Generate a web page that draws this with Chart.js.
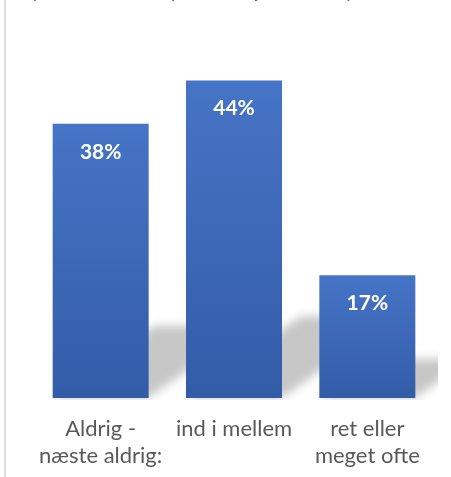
<!DOCTYPE html>
<html>
<head>
<meta charset="utf-8">
<script src="https://cdn.jsdelivr.net/npm/chart.js@4/dist/chart.umd.min.js"></script>
<style>
  html, body { margin: 0; padding: 0; background: #fff; }
  #wrap { position: relative; width: 451px; height: 477px; overflow: hidden; }
  #edge { position: absolute; left: 4px; top: 0; width: 2px; height: 477px; background: #dcdcdc; }
  #box { position: absolute; left: 0; top: -19px; width: 451px; height: 507px; }
</style>
</head>
<body>
<div id="wrap">
  <div id="box"><canvas id="myChart"></canvas></div>
  <div id="edge"></div>
</div>
<script>
"use strict";

var titleText = 'på hvor ofte du har oplevet at få tjek af dit udstyr';
var categories = [['Aldrig -', 'næste aldrig:'], ['ind i mellem'], ['ret eller', 'meget ofte']];
var percents = [38, 44, 17];

// soft gray shadow cast up and to the right behind each bar
var barShadow = {
    id: 'barShadow',
    beforeDatasetsDraw: function(chart) {
        var ctx = chart.ctx;
        var area = chart.chartArea;
        var bars = chart.getDatasetMeta(0).data;
        ctx.save();
        ctx.beginPath();
        ctx.rect(area.left - 10, area.top, area.right - area.left + 14, area.bottom - area.top + 2);
        ctx.clip();
        ctx.filter = 'blur(5px)';
        ctx.fillStyle = 'rgba(0,0,0,0.22)';
        bars.forEach(function(b) {
            var h = b.base - b.y;
            var sh = h * 0.22 + 12;
            var dx = sh * 1.4;
            var l = b.x - b.width / 2, r = b.x + b.width / 2;
            ctx.beginPath();
            ctx.moveTo(l, b.base);
            ctx.lineTo(r, b.base);
            ctx.lineTo(r + dx, b.base - sh);
            ctx.lineTo(l + dx, b.base - sh);
            ctx.closePath();
            ctx.fill();
        });
        ctx.restore();
    }
};

// white bold value labels inside the top of each bar
var valueLabels = {
    id: 'valueLabels',
    afterDatasetsDraw: function(chart) {
        var ctx = chart.ctx;
        var bars = chart.getDatasetMeta(0).data;
        ctx.save();
        ctx.fillStyle = '#ffffff';
        ctx.font = 'bold 21px Lato';
        ctx.textAlign = 'center';
        ctx.textBaseline = 'middle';
        bars.forEach(function(b, i) {
            ctx.fillText(percents[i] + '%', b.x, b.y + 28);
        });
        ctx.restore();
    }
};

var ctx1 = document.getElementById('myChart').getContext('2d');
var myChart = new Chart(ctx1, {
    type: 'bar',
    data: {
        labels: categories,
        datasets: [{
            data: percents,
            backgroundColor: function(c) {
                var chart = c.chart;
                var y = chart.scales.y;
                if (!chart.chartArea || !y || c.raw === undefined) {
                    return '#4472c4';
                }
                var top = y.getPixelForValue(c.raw);
                var bottom = y.getPixelForValue(0);
                var g = chart.ctx.createLinearGradient(0, top, 0, bottom);
                g.addColorStop(0, '#4674c6');
                g.addColorStop(1, '#335ca8');
                return g;
            },
            borderWidth: 0,
            barPercentage: 0.72,
            categoryPercentage: 1
        }]
    },
    options: {
        responsive: true,
        maintainAspectRatio: false,
        animation: false,
        layout: {
            padding: { left: 34, right: 17, top: 0, bottom: 2 }
        },
        plugins: {
            legend: { display: false },
            tooltip: { enabled: false },
            title: {
                display: true,
                text: titleText,
                color: '#44546a',
                align: 'start',
                font: { family: 'Lato', size: 16, style: 'italic', weight: 'normal' },
                padding: { top: 2, bottom: 35 }
            }
        },
        scales: {
            x: {
                grid: { display: false, drawTicks: false },
                border: { display: false },
                ticks: {
                    color: '#595959',
                    padding: 17,
                    maxRotation: 0,
                    font: { family: 'Lato', size: 22, lineHeight: '27px' }
                }
            },
            y: {
                display: false,
                min: 0,
                max: 50
            }
        }
    },
    plugins: [barShadow, valueLabels]
});
</script>
</body>
</html>
